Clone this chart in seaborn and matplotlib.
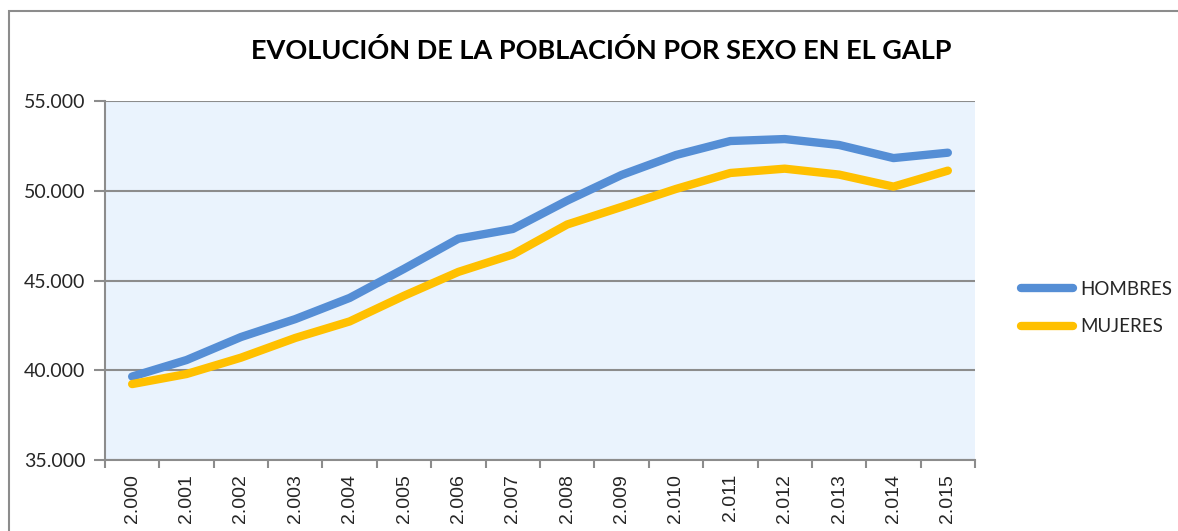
import pandas as pd
import numpy as np
import matplotlib.pyplot as plt
import seaborn as sns
from matplotlib.patches import Rectangle
from matplotlib.lines import Line2D
from matplotlib.ticker import FuncFormatter, MultipleLocator

# Datos
anios = ['2.000', '2.001', '2.002', '2.003', '2.004', '2.005', '2.006', '2.007',
         '2.008', '2.009', '2.010', '2.011', '2.012', '2.013', '2.014', '2.015']
hombres = [39650, 40570, 41850, 42850, 44030, 45650, 47330, 47870,
           49450, 50880, 51990, 52770, 52880, 52550, 51820, 52120]
mujeres = [39230, 39790, 40700, 41800, 42720, 44150, 45480, 46450,
           48120, 49100, 50100, 50990, 51230, 50900, 50230, 51120]

df = pd.DataFrame({
    'idx': list(range(len(anios))) * 2,
    'valor': hombres + mujeres,
    'serie': ['HOMBRES'] * len(anios) + ['MUJERES'] * len(anios),
})

sns.set_theme(style='white')
plt.rcParams['font.family'] = ['Lato', 'DejaVu Sans']

fig = plt.figure(figsize=(11.78, 5.31), dpi=100)
ax = fig.add_axes([0.0891, 0.1337, 0.7386, 0.6761])
ax.set_facecolor('#EAF3FD')

# marco exterior del gráfico
fig.patches.append(Rectangle((9 / 1178, -0.1), 1.2, (531 - 11) / 531 + 0.1,
                             transform=fig.transFigure, fill=False,
                             edgecolor='#8c8c8c', linewidth=1.5, zorder=0))

sns.lineplot(data=df, x='idx', y='valor', hue='serie', ax=ax,
             palette={'HOMBRES': '#558ED5', 'MUJERES': '#FFC000'},
             linewidth=6, solid_capstyle='round', legend=False, zorder=3)

ax.set_xlim(-0.5, len(anios) - 0.5)
ax.set_ylim(35000, 55000)
ax.yaxis.set_major_locator(MultipleLocator(5000))
ax.yaxis.set_major_formatter(FuncFormatter(lambda v, p: f'{int(v):,}'.replace(',', '.')))
ax.grid(axis='y', color='#8c8c8c', linewidth=1.5)
ax.set_axisbelow(True)

ax.set_xticks(range(len(anios)))
ax.set_xticklabels(anios, rotation=90, fontsize=14, family=['Liberation Sans'])
ax.set_xticks(np.arange(-0.5, len(anios), 1), minor=True)
ax.tick_params(axis='x', which='major', length=0, pad=10)
ax.tick_params(axis='x', which='minor', length=6, width=1.5, color='#8c8c8c', direction='out')
ax.tick_params(axis='y', length=8, width=1.5, color='#8c8c8c', direction='out', labelsize=14, pad=6)
ax.xaxis.set_tick_params(bottom=True, which='both')
ax.yaxis.set_tick_params(left=True)

for s in ['top', 'right']:
    ax.spines[s].set_visible(False)
for s in ['left', 'bottom']:
    ax.spines[s].set_color('#8c8c8c')
    ax.spines[s].set_linewidth(1.5)

ax.set_xlabel('')
ax.set_ylabel('')

fig.text(0.51, 0.905, 'EVOLUCIÓN DE LA POBLACIÓN POR SEXO EN EL GALP',
         ha='center', va='center', fontsize=19.5, fontweight='bold', color='black')

handles = [Line2D([], [], color='#558ED5', linewidth=6, solid_capstyle='round'),
           Line2D([], [], color='#FFC000', linewidth=6, solid_capstyle='round')]
fig.legend(handles, ['HOMBRES', 'MUJERES'], loc='center left',
           bbox_to_anchor=(0.852, 0.42), frameon=False, fontsize=13.5,
           handlelength=2.8, handletextpad=0.4, labelspacing=1.1)

plt.savefig('out.png', dpi=100)
plt.close()
